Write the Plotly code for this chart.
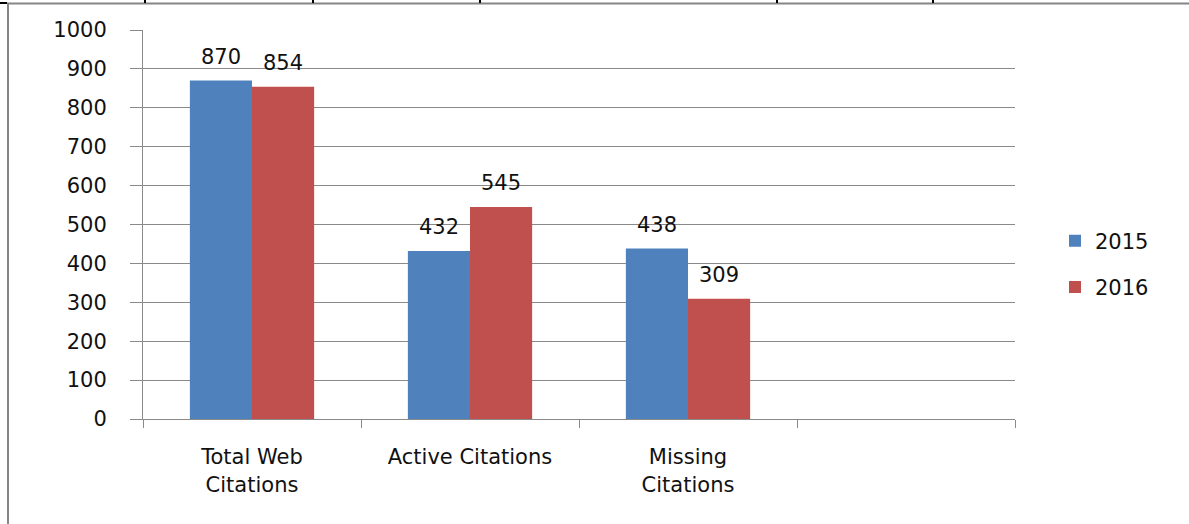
import plotly.graph_objects as go

categories = ["Total Web<br>Citations", "Active Citations", "Missing<br>Citations", " "]
values_2015 = [870, 432, 438, None]
values_2016 = [854, 545, 309, None]
series_names = ["2015", "2016"]
y_ticks = [0, 100, 200, 300, 400, 500, 600, 700, 800, 900, 1000]

FONT = "DejaVu Sans"
FS = 21
GRID = "#8a8a8a"
COLORS = ["#4F81BD", "#C0504D"]

fig = go.Figure()
for name, vals, col, grp in [(series_names[0], values_2015, COLORS[0], "a"),
                             (series_names[1], values_2016, COLORS[1], "b")]:
    fig.add_trace(go.Bar(
        x=categories, y=vals, name=name,
        marker=dict(color=col, line=dict(width=0)),
        legendgroup=grp,
    ))

# data labels above bars
for vals, shift in [(values_2015, -31), (values_2016, 31)]:
    for c, v in zip(categories, vals):
        if v is None:
            continue
        fig.add_annotation(x=c, y=v, text=str(v), showarrow=False,
                           xshift=shift, yshift=24, yanchor="middle",
                           font=dict(family=FONT, size=FS, color="#111111"))

L, R, T, B = 143, 1015, 30, 419
W, H = 1189, 524

def px_x(x):
    return (x - L) / (R - L)

def px_y(y):
    return (B - y) / (B - T)

shapes = [
    dict(type="line", xref="paper", yref="paper", x0=px_x(7), x1=px_x(1189), y0=px_y(3.5), y1=px_y(3.5),
         line=dict(color="#858585", width=2)),
    dict(type="line", xref="paper", yref="paper", x0=px_x(8), x1=px_x(8), y0=px_y(3), y1=px_y(524),
         line=dict(color="#858585", width=2)),
    dict(type="line", xref="paper", yref="paper", x0=px_x(0), x1=px_x(7), y0=px_y(3), y1=px_y(3),
         line=dict(color="#000000", width=2)),
]
for tx in [145, 313, 480, 777, 933]:
    shapes.append(dict(type="line", xref="paper", yref="paper", x0=px_x(tx), x1=px_x(tx),
                       y0=px_y(0), y1=px_y(3), line=dict(color="#000000", width=2)))

fig.update_layout(
    width=W, height=H,
    margin=dict(l=L, r=W - R, t=T, b=H - B),
    paper_bgcolor="white", plot_bgcolor="white",
    barmode="group", bargap=0.43, bargroupgap=0,
    font=dict(family=FONT, size=FS, color="#111111"),
    showlegend=True,
    legend=dict(x=px_x(1055), y=px_y(264), xanchor="left", yanchor="middle",
                font=dict(family=FONT, size=FS, color="#111111"),
                tracegroupgap=16, traceorder="grouped", bgcolor="rgba(0,0,0,0)"),
    xaxis=dict(
        type="category", categoryorder="array", categoryarray=categories,
        range=[-0.5, 3.5], tickson="boundaries", ticks="outside", ticklen=8,
        tickcolor=GRID, tickwidth=1, showline=True, linecolor=GRID, linewidth=1,
        showgrid=False, tickfont=dict(family=FONT, size=FS, color="#111111"),
        ticklabelstandoff=19, fixedrange=True,
    ),
    yaxis=dict(
        range=[0, 1000], tickvals=y_ticks, ticks="outside", ticklen=12,
        tickcolor=GRID, tickwidth=1, showline=True, linecolor=GRID, linewidth=1,
        showgrid=True, gridcolor=GRID, gridwidth=1, zeroline=False,
        tickfont=dict(family=FONT, size=FS, color="#111111"),
        ticklabelstandoff=19, fixedrange=True,
    ),
    shapes=shapes,
)

fig.write_html("out.html", config={"displayModeBar": False},
               post_script="document.body.style.margin='0';")
